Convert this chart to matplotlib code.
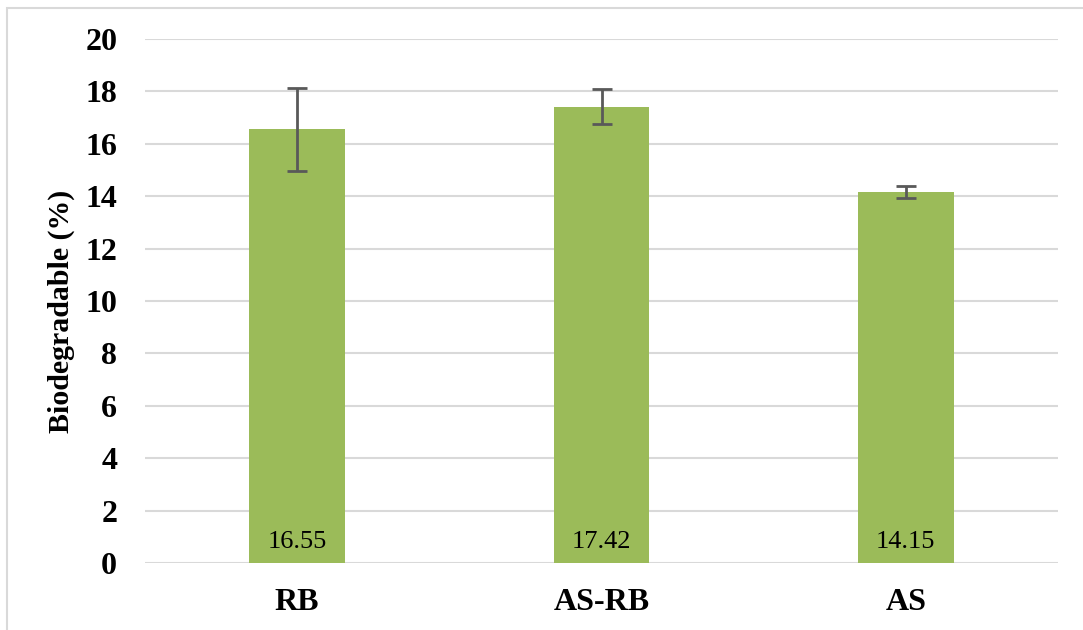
import matplotlib.pyplot as plt
from matplotlib.patches import Rectangle

categorias = ["RB", "AS-RB", "AS"]
valores = [16.55, 17.42, 14.15]
erros = [1.57, 0.67, 0.23]
rotulos = ["16.55", "17.42", "14.15"]

plt.rcParams['font.family'] = ['Liberation Serif', 'DejaVu Serif']

fig = plt.figure(figsize=(10.83, 6.3), dpi=100)
ax = fig.add_axes([145/1083, 1 - 563/630, (1058-145)/1083, (563-39)/630])

x = list(range(len(categorias)))
ax.bar(x, valores, width=0.315, color="#9BBB59", zorder=2,
       yerr=erros, error_kw=dict(ecolor="#595959", elinewidth=2, capsize=7, capthick=2))

for xi, r in zip(x, rotulos):
    ax.text(xi, 0.4, r, ha="center", va="bottom", fontsize=19, color="black", zorder=3)

ax.set_xlim(-0.5, 2.5)
ax.set_ylim(0, 20)
ax.set_yticks(range(0, 21, 2))
ax.set_xticks(x)
ax.set_xticklabels(categorias)
ax.grid(axis="y", color="#D9D9D9", linewidth=1.5, zorder=0)
ax.set_axisbelow(True)
for s in ax.spines.values():
    s.set_visible(False)
ax.tick_params(length=0, labelsize=23, pad=20)
ax.tick_params(axis="x", pad=18)
for lb in ax.get_xticklabels() + ax.get_yticklabels():
    lb.set_fontweight("bold")
ax.set_ylabel("Biodegradable (%)", fontsize=21.5, fontweight="bold")
ax.yaxis.set_label_coords(-0.077, 0.481)

fig.patches.append(Rectangle((7/1083, -0.05), 1.1, 1 - 8/630 + 0.05, transform=fig.transFigure,
                             fill=False, edgecolor="#D9D9D9", linewidth=1.5))

fig.savefig("out.png", dpi=100)
